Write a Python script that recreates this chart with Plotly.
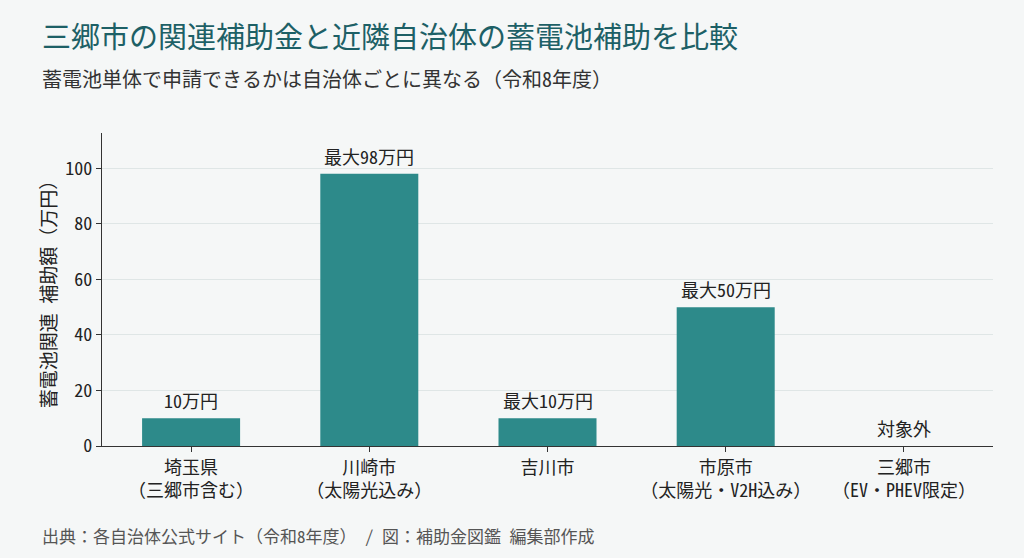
import plotly.graph_objects as go

# data
cities = ["埼玉県<br>（三郷市含む）", "川崎市<br>（太陽光込み）", "吉川市",
          "市原市<br>（太陽光・V2H込み）", "三郷市<br>（EV・PHEV限定）"]
amounts = [10, 98, 10, 50, 0]
bar_labels = ["10万円", "最大98万円", "最大10万円", "最大50万円", "対象外"]
y_ticks = [0, 20, 40, 60, 80, 100]

FONT = "Noto Sans Mono CJK JP, Noto Sans CJK JP"
BG = "#f5f7f7"
BAR = "#2d8a8a"

# plot area in pixels: x 102..993, y 133..446
PW, PH = 891.0, 313.0

x = list(range(len(cities)))

fig = go.Figure()
fig.add_trace(go.Bar(x=x, y=amounts, width=0.55, marker=dict(color=BAR, line=dict(width=0)),
                     hoverinfo="skip"))

for xi, yi, lab in zip(x, amounts, bar_labels):
    fig.add_annotation(x=xi, y=yi, text=lab, showarrow=False, yanchor="bottom",
                       yshift=3, font=dict(family=FONT, size=18, color="#222"))

fig.add_annotation(xref="paper", yref="paper", x=(40 - 102) / PW, y=(446 - 35) / PH,
                   text="三郷市の関連補助金と近隣自治体の蓄電池補助を比較",
                   showarrow=False, xanchor="left", yanchor="middle",
                   font=dict(family=FONT, size=29, color="#1d6066"))
fig.add_annotation(xref="paper", yref="paper", x=(40 - 102) / PW, y=(446 - 78) / PH,
                   text="蓄電池単体で申請できるかは自治体ごとに異なる（令和8年度）",
                   showarrow=False, xanchor="left", yanchor="middle",
                   font=dict(family=FONT, size=20, color="#333"))
fig.add_annotation(xref="paper", yref="paper", x=(40 - 102) / PW, y=(446 - 535) / PH,
                   text="出典：各自治体公式サイト（令和8年度）　/ 図：補助金図鑑 編集部作成",
                   showarrow=False, xanchor="left", yanchor="middle",
                   font=dict(family=FONT, size=17, color="#555"))

fig.update_layout(
    width=1024, height=558,
    margin=dict(l=102, r=31, t=133, b=112),
    paper_bgcolor=BG, plot_bgcolor=BG,
    showlegend=False,
    font=dict(family=FONT, color="#222"),
    xaxis=dict(range=[-0.5, 4.5], tickmode="array", tickvals=x, ticktext=cities,
               showgrid=False, showline=True, linecolor="#333", linewidth=1.2,
               ticks="outside", ticklen=5, tickcolor="#333",
               tickfont=dict(family=FONT, size=18, color="#222"), zeroline=False),
    yaxis=dict(range=[0, 112.7], tickmode="array", tickvals=y_ticks,
               showgrid=True, gridcolor="#dfe6e6", gridwidth=1,
               showline=True, linecolor="#333", linewidth=1.2,
               ticks="outside", ticklen=5, tickcolor="#333",
               tickfont=dict(family=FONT, size=18, color="#222"), zeroline=False,
               title=dict(text="蓄電池関連 補助額（万円）", standoff=3,
                          font=dict(family=FONT, size=19, color="#222"))),
)

fig.write_html("out.html", config={"displayModeBar": False},
               post_script="document.body.style.margin='0';")
